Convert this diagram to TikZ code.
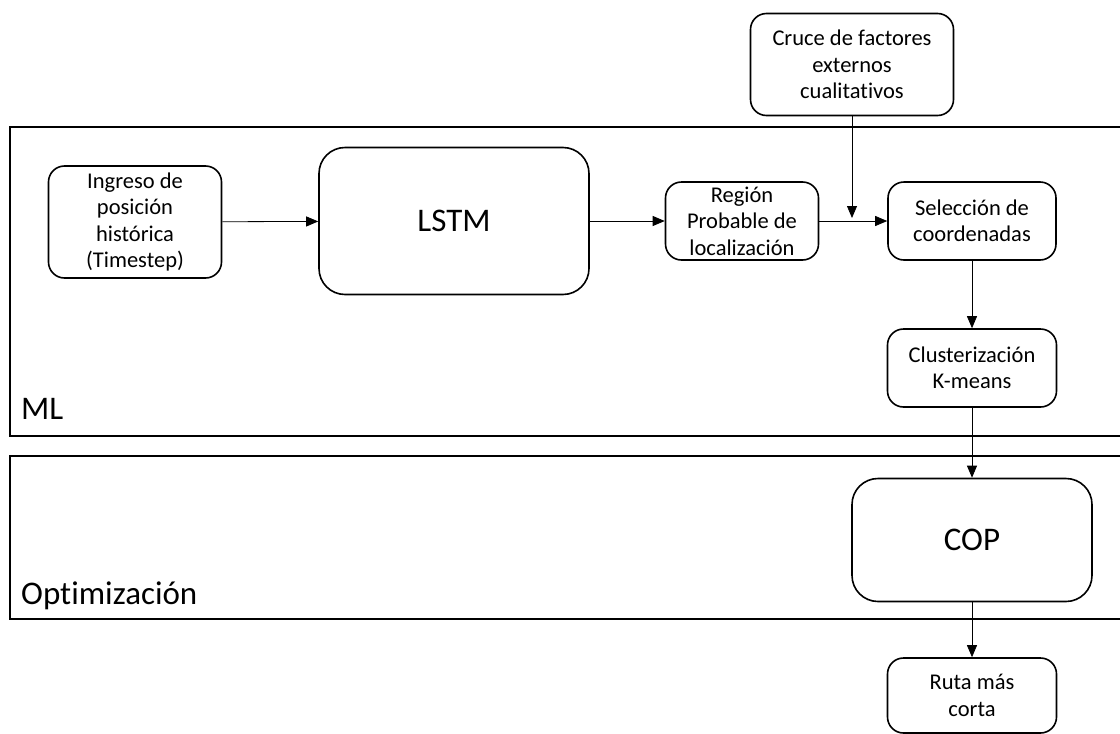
\documentclass[tikz,border=0pt]{standalone}
\usepackage{fontspec}
\setmainfont{Carlito}[Ligatures={NoCommon}]
\usepackage{tikz}
\usetikzlibrary{arrows.meta}

\begin{document}
\begin{tikzpicture}[x=1pt,y=-1pt,
	box/.style={draw,line width=1.6pt,rounded corners=16pt,align=center,
		inner sep=0pt,font=\fontsize{22.5}{26.5}\selectfont},
	bigbox/.style={box,rounded corners=26pt,font=\fontsize{33}{38}\selectfont},
	frame/.style={draw,line width=1.6pt},
	link/.style={line width=0.8pt,-{Triangle[length=12pt,width=10pt]}},
	tag/.style={anchor=base west,inner sep=0pt,font=\fontsize{33}{38}\selectfont}]
	\useasboundingbox (0,0) rectangle (1120,734);
	% frames
	\draw[frame] (10,127) rectangle (1122,436);
	\draw[frame] (10,456) rectangle (1122,619);
	\node[tag] (ml) at (21,419) {ML};
	\node[tag] (opt) at (21,604) {Optimización};
	% boxes
	\node[box,minimum width=203pt,minimum height=102pt] (cruce) at (852,64.5) {Cruce de factores\\externos\\cualitativos};
	\node[box,minimum width=173pt,minimum height=112pt] (ingreso) at (135,222) {Ingreso de\\posición\\histórica\\(Timestep)};
	\node[bigbox,minimum width=270pt,minimum height=147pt] (lstm) at (454,221) {LSTM};
	\node[box,minimum width=153pt,minimum height=78pt] (region) at (742,221) {Región\\Probable de\\localización};
	\node[box,minimum width=168pt,minimum height=78pt] (seleccion) at (972,221) {Selección de\\coordenadas};
	\node[box,minimum width=169pt,minimum height=78pt] (cluster) at (972,368) {Clusterización\\K-means};
	\node[bigbox,minimum width=240pt,minimum height=123pt] (cop) at (972,540) {COP};
	\node[box,minimum width=169pt,minimum height=75pt] (ruta) at (972,695.5) {Ruta más\\corta};
	\coordinate (merge) at (852,218);
	% connectors
	\draw[link] (ingreso) -- (lstm);
	\draw[link] (lstm) -- (region);
	\draw[link] (region) -- (seleccion);
	\draw[link] (cruce) -- (merge);
	\draw[link] (seleccion) -- (cluster);
	\draw[link] (cluster) -- (cop);
	\draw[link] (cop) -- (ruta);
\end{tikzpicture}
\end{document}
